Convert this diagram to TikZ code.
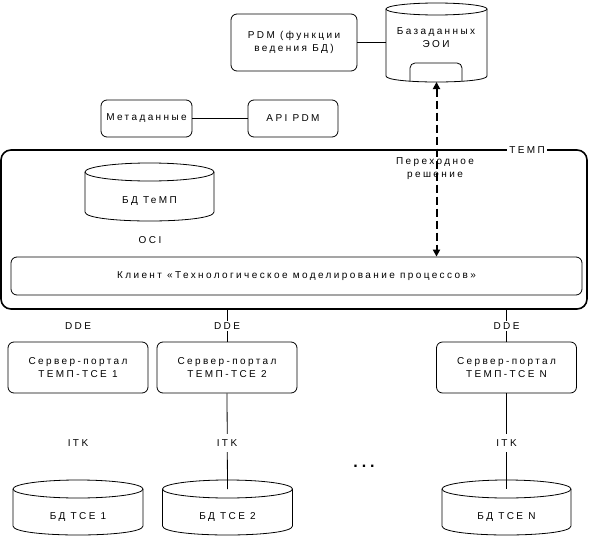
\documentclass[tikz,border=0pt]{standalone}
\usepackage{fontspec}
\setmainfont{Liberation Sans}[LetterSpace=24]
\usetikzlibrary{arrows.meta}
% #1 name, #2 cx, #3 y of top ellipse centre, #4 y of bottom ellipse centre, #5 rx, #6 ry
\newcommand{\dbcyl}[6]{%
  \draw ({#2},{#3}) ellipse [x radius=#5, y radius=#6];
  \draw ({#2-#5},{#3}) -- ({#2-#5},{#4})
    .. controls ({#2-#5},{#4+#6*4/3}) and ({#2+#5},{#4+#6*4/3}) .. ({#2+#5},{#4})
    -- ({#2+#5},{#3});
  \coordinate (#1-top) at ({#2},{#3});
  \coordinate (#1-bot) at ({#2},{#4+#6});
  \coordinate (#1-w) at ({#2-#5},{(#3+#4)/2});
}
\begin{document}
\begin{tikzpicture}[x=1pt,y=-1pt,line width=0.8pt,
  font=\fontsize{10}{13}\selectfont,
  box/.style={draw, rounded corners=6pt, align=center, inner sep=1pt},
  txt/.style={align=center, inner sep=1pt},
  wtxt/.style={txt, fill=white, inner sep=2pt},
  dasharrow/.style={line width=2pt, dash pattern=on 8pt off 4pt,
    {Triangle[length=7pt,width=7pt]}-{Triangle[length=7pt,width=7pt]}},
  srv/.style={box, minimum width=140pt, minimum height=51pt}]
\useasboundingbox (0,0) rectangle (592,538);

% top part
\node[box, minimum width=126pt, minimum height=57pt] (pdm) at (294,42.5) {PDM (функции\\ведения БД)};
\dbcyl{eoi}{436.5}{9}{76}{50.5}{6}
\node[txt] (eoitxt) at (436,38) {Базаданных\\ЭОИ};
\draw[rounded corners=5pt] (410,81) -- (410,63) -- (462,63) -- (462,81);
\draw (pdm.east) -- (eoi-w);

\node[box, minimum width=91pt, minimum height=37pt] (meta) at (146.5,118.5) {Метаданные};
\node[box, minimum width=90pt, minimum height=37pt] (api) at (293,118.5) {API PDM};
\draw (meta) -- (api);

% TEMP block
\node[draw, line width=1.6pt, rounded corners=10pt, minimum width=586pt, minimum height=159pt] (temp) at (294,229.5) {};
\node[wtxt] (temptitle) at (527,150) {ТЕМП};
\dbcyl{bdtemp}{149.5}{172}{212}{64.5}{9}
\node[txt] (bdtemptxt) at (149.5,201) {БД ТеМП};
\node[txt] (oci) at (150,240) {OCI};
\node[box, minimum width=571pt, minimum height=38pt] (client) at (296.5,276) {Клиент «Технологическое моделирование процессов»};
\node[txt] (trans) at (435,169) {Переходное\\решение};
\draw[dasharrow] (eoi-bot) -- (eoi-bot |- client.north);

% servers
\node[srv] (s1) at (78,367.5) {Сервер-портал\\ТЕМП-ТСЕ 1};
\node[srv] (s2) at (227,367.5) {Сервер-портал\\ТЕМП-ТСЕ 2};
\node[srv] (sn) at (506.5,367.5) {Сервер-портал\\ТЕМП-ТСЕ N};

% databases
\dbcyl{tce1}{78}{489}{526}{65}{9}
\dbcyl{tce2}{227.5}{489}{526}{65}{9}
\dbcyl{tcen}{506.5}{489}{526}{64.5}{9}
\node[txt] (tce1txt) at (78,516.5) {БД ТСЕ 1};
\node[txt] (tce2txt) at (227.5,516.5) {БД ТСЕ 2};
\node[txt] (tcentxt) at (506.5,516.5) {БД ТСЕ N};

% connectors
\draw (temp.south -| s2.north) -- (s2.north);
\draw (temp.south -| sn.north) -- (sn.north);
\draw (s2.south) -- (tce2-top);
\draw (sn.south) -- (tcen-top);

% labels
\node[txt] (dde1) at (78,326) {DDE};
\node[wtxt] (dde2) at (227,326) {DDE};
\node[wtxt] (dden) at (506.5,326) {DDE};
\node[txt] (itk1) at (78,443) {ITK};
\node[wtxt, inner ysep=6pt] (itk2) at (227,443) {ITK};
\node[wtxt, inner ysep=6pt] (itkn) at (506.5,443) {ITK};
\node[txt, font=\bfseries\fontsize{16}{16}\selectfont] (dots) at (364,466) {...};
\end{tikzpicture}
\end{document}
